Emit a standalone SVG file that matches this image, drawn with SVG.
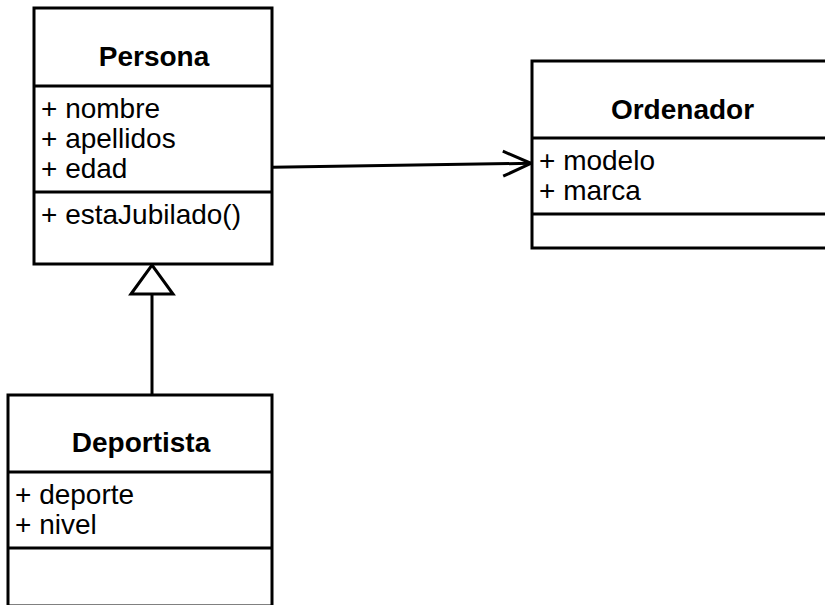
<svg xmlns="http://www.w3.org/2000/svg" width="825" height="605" viewBox="0 0 825 605">
  <style>
    .box { fill: #ffffff; stroke: #000000; stroke-width: 3; }
    .div { stroke: #000000; stroke-width: 3; fill: none; }
    .title { font-family: "Liberation Sans", Arial, Helvetica, sans-serif; font-size: 28px; font-weight: bold; fill: #000000; text-anchor: middle; }
    .attr { font-family: "Liberation Sans", Arial, Helvetica, sans-serif; font-size: 28px; fill: #000000; }
    .edge { stroke: #000000; stroke-width: 3; fill: none; }
  </style>
  <defs>
    <marker id="open-arrow" viewBox="0 0 32 30" refX="30" refY="15" markerWidth="32" markerHeight="30" markerUnits="userSpaceOnUse" orient="auto">
      <path d="M 2 2.5 L 30 15 L 2 27.5" fill="none" stroke="#000000" stroke-width="3"/>
    </marker>
    <marker id="hollow-triangle" viewBox="0 0 34 48" refX="31" refY="24" markerWidth="34" markerHeight="48" markerUnits="userSpaceOnUse" orient="auto">
      <path d="M 2 3 L 31 24 L 2 45 Z" fill="#ffffff" stroke="#000000" stroke-width="3"/>
    </marker>
  </defs>

  <g id="connectors">
    <line class="edge" x1="272" y1="167.3" x2="531" y2="163.3" marker-end="url(#open-arrow)"/>
    <line class="edge" x1="152" y1="395" x2="152" y2="265" marker-end="url(#hollow-triangle)"/>
  </g>

  <g id="Persona">
    <rect class="box" x="34" y="8" width="238" height="256"/>
    <line class="div" x1="34" y1="86" x2="272" y2="86"/>
    <line class="div" x1="34" y1="192" x2="272" y2="192"/>
    <text class="title" x="154" y="66">Persona</text>
    <text class="attr" x="41" y="118">+ nombre</text>
    <text class="attr" x="41" y="148">+ apellidos</text>
    <text class="attr" x="41" y="178">+ edad</text>
    <text class="attr" x="41" y="224">+ estaJubilado()</text>
  </g>

  <g id="Ordenador">
    <rect class="box" x="532" y="61" width="302" height="187"/>
    <line class="div" x1="532" y1="138" x2="834" y2="138"/>
    <line class="div" x1="532" y1="214" x2="834" y2="214"/>
    <text class="title" x="682.5" y="119">Ordenador</text>
    <text class="attr" x="539" y="170">+ modelo</text>
    <text class="attr" x="539" y="200">+ marca</text>
  </g>

  <g id="Deportista">
    <rect class="box" x="8" y="395" width="264" height="211"/>
    <line class="div" x1="8" y1="472" x2="272" y2="472"/>
    <line class="div" x1="8" y1="548" x2="272" y2="548"/>
    <text class="title" x="141" y="452">Deportista</text>
    <text class="attr" x="15" y="504">+ deporte</text>
    <text class="attr" x="15" y="534">+ nivel</text>
  </g>
</svg>
